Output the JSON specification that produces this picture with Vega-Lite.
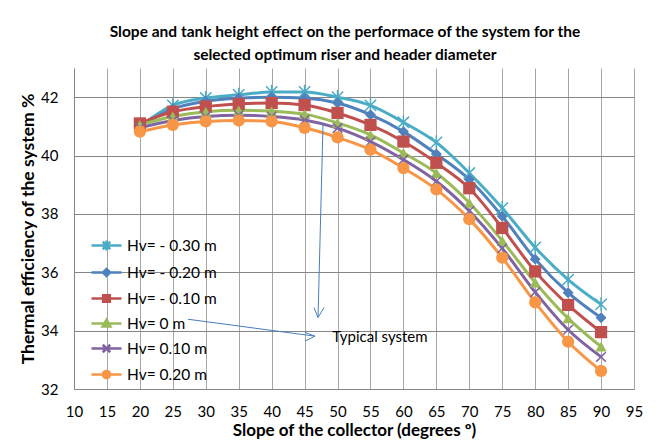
{
  "$schema": "https://vega.github.io/schema/vega-lite/v6.json",
  "width": 560,
  "height": 321,
  "autosize": {"type": "none"},
  "padding": {"left": 74, "top": 68, "right": 29, "bottom": 52},
  "background": "white",
  "config": {
    "font": "Lato",
    "view": {"stroke": null},
    "axis": {"labelFont": "Lato", "titleFont": "Lato", "labelColor": "#000", "titleColor": "#000"}
  },
  "title": {
    "text": ["Slope and tank height effect on the performace of the system for the", "selected optimum riser and header diameter"],
    "fontSize": 15.5,
    "fontWeight": "bold",
    "font": "Lato",
    "color": "#000",
    "lineHeight": 23,
    "offset": 5,
    "frame": "group",
    "anchor": "middle",
    "dx": -9
  },
  "datasets": {
    "eff": [
      {"slope": 20, "efficiency": 41.0, "series": "Hv= - 0.30 m"},
      {"slope": 25, "efficiency": 41.72, "series": "Hv= - 0.30 m"},
      {"slope": 30, "efficiency": 41.97, "series": "Hv= - 0.30 m"},
      {"slope": 35, "efficiency": 42.08, "series": "Hv= - 0.30 m"},
      {"slope": 40, "efficiency": 42.18, "series": "Hv= - 0.30 m"},
      {"slope": 45, "efficiency": 42.18, "series": "Hv= - 0.30 m"},
      {"slope": 50, "efficiency": 42.0, "series": "Hv= - 0.30 m"},
      {"slope": 55, "efficiency": 41.72, "series": "Hv= - 0.30 m"},
      {"slope": 60, "efficiency": 41.14, "series": "Hv= - 0.30 m"},
      {"slope": 65, "efficiency": 40.45, "series": "Hv= - 0.30 m"},
      {"slope": 70, "efficiency": 39.4, "series": "Hv= - 0.30 m"},
      {"slope": 75, "efficiency": 38.2, "series": "Hv= - 0.30 m"},
      {"slope": 80, "efficiency": 36.85, "series": "Hv= - 0.30 m"},
      {"slope": 85, "efficiency": 35.75, "series": "Hv= - 0.30 m"},
      {"slope": 90, "efficiency": 34.9, "series": "Hv= - 0.30 m"},
      {"slope": 20, "efficiency": 41.0, "series": "Hv= - 0.20 m"},
      {"slope": 25, "efficiency": 41.6, "series": "Hv= - 0.20 m"},
      {"slope": 30, "efficiency": 41.86, "series": "Hv= - 0.20 m"},
      {"slope": 35, "efficiency": 41.96, "series": "Hv= - 0.20 m"},
      {"slope": 40, "efficiency": 42.0, "series": "Hv= - 0.20 m"},
      {"slope": 45, "efficiency": 41.97, "series": "Hv= - 0.20 m"},
      {"slope": 50, "efficiency": 41.8, "series": "Hv= - 0.20 m"},
      {"slope": 55, "efficiency": 41.4, "series": "Hv= - 0.20 m"},
      {"slope": 60, "efficiency": 40.82, "series": "Hv= - 0.20 m"},
      {"slope": 65, "efficiency": 40.05, "series": "Hv= - 0.20 m"},
      {"slope": 70, "efficiency": 39.18, "series": "Hv= - 0.20 m"},
      {"slope": 75, "efficiency": 37.92, "series": "Hv= - 0.20 m"},
      {"slope": 80, "efficiency": 36.45, "series": "Hv= - 0.20 m"},
      {"slope": 85, "efficiency": 35.3, "series": "Hv= - 0.20 m"},
      {"slope": 90, "efficiency": 34.44, "series": "Hv= - 0.20 m"},
      {"slope": 20, "efficiency": 41.1, "series": "Hv= - 0.10 m"},
      {"slope": 25, "efficiency": 41.5, "series": "Hv= - 0.10 m"},
      {"slope": 30, "efficiency": 41.68, "series": "Hv= - 0.10 m"},
      {"slope": 35, "efficiency": 41.77, "series": "Hv= - 0.10 m"},
      {"slope": 40, "efficiency": 41.8, "series": "Hv= - 0.10 m"},
      {"slope": 45, "efficiency": 41.73, "series": "Hv= - 0.10 m"},
      {"slope": 50, "efficiency": 41.46, "series": "Hv= - 0.10 m"},
      {"slope": 55, "efficiency": 41.05, "series": "Hv= - 0.10 m"},
      {"slope": 60, "efficiency": 40.48, "series": "Hv= - 0.10 m"},
      {"slope": 65, "efficiency": 39.75, "series": "Hv= - 0.10 m"},
      {"slope": 70, "efficiency": 38.88, "series": "Hv= - 0.10 m"},
      {"slope": 75, "efficiency": 37.52, "series": "Hv= - 0.10 m"},
      {"slope": 80, "efficiency": 36.03, "series": "Hv= - 0.10 m"},
      {"slope": 85, "efficiency": 34.88, "series": "Hv= - 0.10 m"},
      {"slope": 90, "efficiency": 33.95, "series": "Hv= - 0.10 m"},
      {"slope": 20, "efficiency": 41.05, "series": "Hv= 0 m"},
      {"slope": 25, "efficiency": 41.34, "series": "Hv= 0 m"},
      {"slope": 30, "efficiency": 41.5, "series": "Hv= 0 m"},
      {"slope": 35, "efficiency": 41.55, "series": "Hv= 0 m"},
      {"slope": 40, "efficiency": 41.52, "series": "Hv= 0 m"},
      {"slope": 45, "efficiency": 41.42, "series": "Hv= 0 m"},
      {"slope": 50, "efficiency": 41.12, "series": "Hv= 0 m"},
      {"slope": 55, "efficiency": 40.71, "series": "Hv= 0 m"},
      {"slope": 60, "efficiency": 40.09, "series": "Hv= 0 m"},
      {"slope": 65, "efficiency": 39.4, "series": "Hv= 0 m"},
      {"slope": 70, "efficiency": 38.38, "series": "Hv= 0 m"},
      {"slope": 75, "efficiency": 37.08, "series": "Hv= 0 m"},
      {"slope": 80, "efficiency": 35.65, "series": "Hv= 0 m"},
      {"slope": 85, "efficiency": 34.42, "series": "Hv= 0 m"},
      {"slope": 90, "efficiency": 33.45, "series": "Hv= 0 m"},
      {"slope": 20, "efficiency": 40.95, "series": "Hv= 0.10 m"},
      {"slope": 25, "efficiency": 41.2, "series": "Hv= 0.10 m"},
      {"slope": 30, "efficiency": 41.34, "series": "Hv= 0.10 m"},
      {"slope": 35, "efficiency": 41.38, "series": "Hv= 0.10 m"},
      {"slope": 40, "efficiency": 41.34, "series": "Hv= 0.10 m"},
      {"slope": 45, "efficiency": 41.22, "series": "Hv= 0.10 m"},
      {"slope": 50, "efficiency": 40.94, "series": "Hv= 0.10 m"},
      {"slope": 55, "efficiency": 40.48, "series": "Hv= 0.10 m"},
      {"slope": 60, "efficiency": 39.86, "series": "Hv= 0.10 m"},
      {"slope": 65, "efficiency": 39.12, "series": "Hv= 0.10 m"},
      {"slope": 70, "efficiency": 38.1, "series": "Hv= 0.10 m"},
      {"slope": 75, "efficiency": 36.82, "series": "Hv= 0.10 m"},
      {"slope": 80, "efficiency": 35.32, "series": "Hv= 0.10 m"},
      {"slope": 85, "efficiency": 34.03, "series": "Hv= 0.10 m"},
      {"slope": 90, "efficiency": 33.1, "series": "Hv= 0.10 m"},
      {"slope": 20, "efficiency": 40.82, "series": "Hv= 0.20 m"},
      {"slope": 25, "efficiency": 41.05, "series": "Hv= 0.20 m"},
      {"slope": 30, "efficiency": 41.17, "series": "Hv= 0.20 m"},
      {"slope": 35, "efficiency": 41.2, "series": "Hv= 0.20 m"},
      {"slope": 40, "efficiency": 41.17, "series": "Hv= 0.20 m"},
      {"slope": 45, "efficiency": 40.95, "series": "Hv= 0.20 m"},
      {"slope": 50, "efficiency": 40.62, "series": "Hv= 0.20 m"},
      {"slope": 55, "efficiency": 40.2, "series": "Hv= 0.20 m"},
      {"slope": 60, "efficiency": 39.57, "series": "Hv= 0.20 m"},
      {"slope": 65, "efficiency": 38.84, "series": "Hv= 0.20 m"},
      {"slope": 70, "efficiency": 37.82, "series": "Hv= 0.20 m"},
      {"slope": 75, "efficiency": 36.5, "series": "Hv= 0.20 m"},
      {"slope": 80, "efficiency": 34.97, "series": "Hv= 0.20 m"},
      {"slope": 85, "efficiency": 33.62, "series": "Hv= 0.20 m"},
      {"slope": 90, "efficiency": 32.62, "series": "Hv= 0.20 m"}
    ],
    "arrows": [
      {"slope": 47.8, "efficiency": 41.1, "slope2": 47.04, "efficiency2": 34.45},
      {"slope": 47.04, "efficiency": 34.45, "slope2": 46.43, "efficiency2": 34.79},
      {"slope": 47.04, "efficiency": 34.45, "slope2": 47.95, "efficiency2": 34.79},
      {"slope": 27.3, "efficiency": 34.39, "slope2": 46.58, "efficiency2": 33.81},
      {"slope": 46.58, "efficiency": 33.81, "slope2": 45.06, "efficiency2": 33.94},
      {"slope": 46.58, "efficiency": 33.81, "slope2": 45.06, "efficiency2": 33.64}
    ],
    "notes": [
      {"slope": 49.2, "efficiency": 33.77, "label": "Typical system"}
    ]
  },
  "encoding": {
    "x": {
      "field": "slope", "type": "quantitative",
      "scale": {"domain": [10, 95], "nice": false, "zero": false},
      "axis": {
        "values": [10, 15, 20, 25, 30, 35, 40, 45, 50, 55, 60, 65, 70, 75, 80, 85, 90, 95],
        "title": "Slope of the collector (degrees º)",
        "titleFontSize": 17, "titleFontWeight": "bold", "titlePadding": 3,
        "labelFontSize": 15, "labelPadding": 15, "ticks": false, "labelOverlap": false,
        "grid": true, "gridColor": "#a6a6a6", "gridWidth": 1,
        "domainColor": "#868686", "labelFlush": false
      }
    },
    "y": {
      "field": "efficiency", "type": "quantitative",
      "scale": {"domain": [32, 43], "nice": false, "zero": false},
      "axis": {
        "values": [32, 34, 36, 38, 40, 42],
        "title": "Thermal efficiency of the system %",
        "titleFontSize": 17.5, "titleFontWeight": "bold", "titlePadding": 3,
        "labelFontSize": 15, "labelPadding": 16, "ticks": false, "labelOverlap": false,
        "grid": true, "gridColor": "#868686", "gridWidth": 1,
        "domainColor": "#868686", "labelFlush": false
      }
    }
  },
  "layer": [
    {
      "data": {"name": "eff"},
      "mark": {"type": "line", "interpolate": "monotone", "strokeWidth": 3},
      "encoding": {
        "color": {
          "field": "series", "type": "nominal",
          "scale": {
            "domain": ["Hv= - 0.30 m", "Hv= - 0.20 m", "Hv= - 0.10 m", "Hv= 0 m", "Hv= 0.10 m", "Hv= 0.20 m"],
            "range": ["#4BACC6", "#4F81BD", "#C0504D", "#9BBB59", "#8064A2", "#F79646"]
          },
          "legend": {
            "orient": "none", "legendX": 16, "legendY": 161,
            "title": null, "labelFontSize": 15, "labelFont": "Lato", "labelColor": "#000",
            "symbolSize": 900, "labelOffset": 4, "rowPadding": -6, "padding": 0,
            "labelLimit": 0,
            "encode": {
              "labels": {"update": {"font": {"value": "Lato"}, "fontSize": {"value": 15.5}}},
              "symbols": {
                "update": {
                  "shape": {"signal": "datum.value === 'Hv= - 0.30 m' ? 'M-1,0L1,0M-0.25,-0.25L0.25,0.25M-0.25,0.25L0.25,-0.25M0,-0.33L0,0.33' : datum.value === 'Hv= - 0.20 m' ? 'M-1,0L1,0M0,-0.24L0.24,0L0,0.24L-0.24,0Z' : datum.value === 'Hv= - 0.10 m' ? 'M-1,0L1,0M-0.22,-0.22L0.22,-0.22L0.22,0.22L-0.22,0.22Z' : datum.value === 'Hv= 0 m' ? 'M-1,0L1,0M0,-0.25L0.26,0.2L-0.26,0.2Z' : datum.value === 'Hv= 0.10 m' ? 'M-1,0L1,0M-0.25,-0.25L0.25,0.25M-0.25,0.25L0.25,-0.25' : 'M-1,0L1,0M-0.24,0A0.24,0.24 0 1,1 0.24,0A0.24,0.24 0 1,1 -0.24,0'"},
                  "fill": {"signal": "scale('color', datum.value)"},
                  "stroke": {"signal": "scale('color', datum.value)"},
                  "strokeWidth": {"value": 2.5},
                  "size": {"value": 900},
                  "opacity": {"value": 1},
                  "fillOpacity": {"value": 1}
                }
              }
            }
          }
        }
      }
    },
    {
      "data": {"name": "eff"},
      "transform": [{"filter": {"field": "series", "equal": "Hv= - 0.30 m"}}],
      "mark": {"type": "point", "filled": false, "opacity": 1, "strokeWidth": 1.5, "color": "#4BACC6", "size": 200, "shape": "M-0.8,-0.8L0.8,0.8M-0.8,0.8L0.8,-0.8M0,-1L0,1"}
    },
    {
      "data": {"name": "eff"},
      "transform": [{"filter": {"field": "series", "equal": "Hv= - 0.20 m"}}],
      "mark": {"type": "point", "filled": true, "opacity": 1, "color": "#4F81BD", "size": 120, "shape": "diamond"}
    },
    {
      "data": {"name": "eff"},
      "transform": [{"filter": {"field": "series", "equal": "Hv= - 0.10 m"}}],
      "mark": {"type": "point", "filled": true, "opacity": 1, "color": "#C0504D", "size": 150, "shape": "square"}
    },
    {
      "data": {"name": "eff"},
      "transform": [{"filter": {"field": "series", "equal": "Hv= 0 m"}}],
      "mark": {"type": "point", "filled": true, "opacity": 1, "color": "#9BBB59", "size": 130, "shape": "triangle-up"}
    },
    {
      "data": {"name": "eff"},
      "transform": [{"filter": {"field": "series", "equal": "Hv= 0.10 m"}}],
      "mark": {"type": "point", "filled": false, "opacity": 1, "strokeWidth": 1.5, "color": "#8064A2", "size": 90, "shape": "M-1,-1L1,1M-1,1L1,-1"}
    },
    {
      "data": {"name": "eff"},
      "transform": [{"filter": {"field": "series", "equal": "Hv= 0.20 m"}}],
      "mark": {"type": "point", "filled": true, "opacity": 1, "color": "#F79646", "size": 150, "shape": "circle"}
    },
    {
      "data": {"name": "arrows"},
      "mark": {"type": "rule", "color": "#4A7EBB", "strokeWidth": 1},
      "encoding": {
        "x2": {"field": "slope2"},
        "y2": {"field": "efficiency2"}
      }
    },
    {
      "data": {"name": "notes"},
      "mark": {"type": "text", "align": "left", "baseline": "middle", "fontSize": 15, "font": "Lato", "color": "#000"},
      "encoding": {
        "text": {"field": "label"}
      }
    }
  ]
}
